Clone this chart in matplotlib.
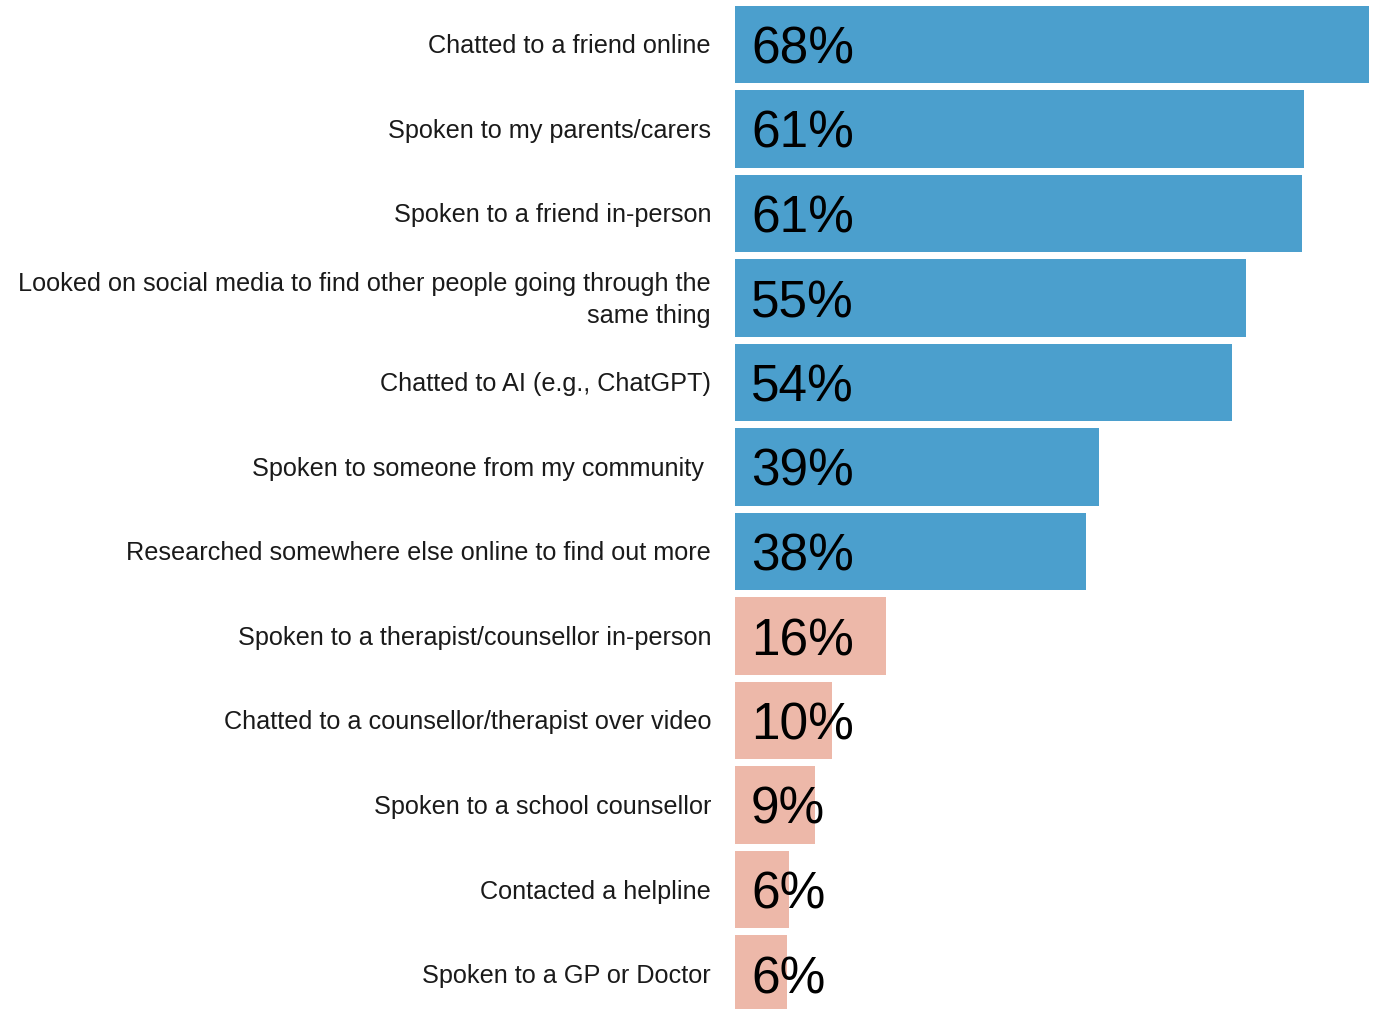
import matplotlib
matplotlib.use("Agg")
import matplotlib.pyplot as plt

categories = [
    "Chatted to a friend online",
    "Spoken to my parents/carers",
    "Spoken to a friend in-person",
    "Looked on social media to find other people going through the\nsame thing",
    "Chatted to AI (e.g., ChatGPT)",
    "Spoken to someone from my community ",
    "Researched somewhere else online to find out more",
    "Spoken to a therapist/counsellor in-person",
    "Chatted to a counsellor/therapist over video",
    "Spoken to a school counsellor",
    "Contacted a helpline",
    "Spoken to a GP or Doctor",
]
bar_values = [68.0, 61.0, 60.8, 54.8, 53.3, 39.0, 37.6, 16.2, 10.4, 8.6, 5.8, 5.6]
value_labels = ["68%", "61%", "61%", "55%", "54%", "39%", "38%", "16%", "10%", "9%", "6%", "6%"]
groups = ["blue"] * 7 + ["pink"] * 5

colors = {"blue": "#4b9fcd", "pink": "#edb8a9"}

W, H = 1373, 1009
fig = plt.figure(figsize=(W / 100, H / 100), dpi=100)
ax = fig.add_axes([735 / W, 0, (W - 735) / W, 1])

pitch = 84.5
top_center = 44.5
y = list(range(len(categories)))
ax.barh(y, bar_values, height=0.917, color=[colors[g] for g in groups], left=0)
ax.set_xlim(0, 68.0 * (W - 735) / (1369 - 735))
ax.set_ylim((H - top_center) / pitch, -top_center / pitch)
ax.axis("off")

for i, (cat, lab) in enumerate(zip(categories, value_labels)):
    ax.annotate(cat, xy=(0, i), xytext=(-24 * 0.72, -2 * 0.72), textcoords="offset points",
                ha="right", va="center", fontsize=18.2, family="Liberation Sans",
                color="#1a1a1a", linespacing=1.42, multialignment="right")
    ax.annotate(lab, xy=(0, i), xytext=(16 * 0.72, 0), textcoords="offset points",
                ha="left", va="center_baseline", fontsize=37, family="Liberation Sans",
                color="black")

fig.savefig("out.png", dpi=100)
